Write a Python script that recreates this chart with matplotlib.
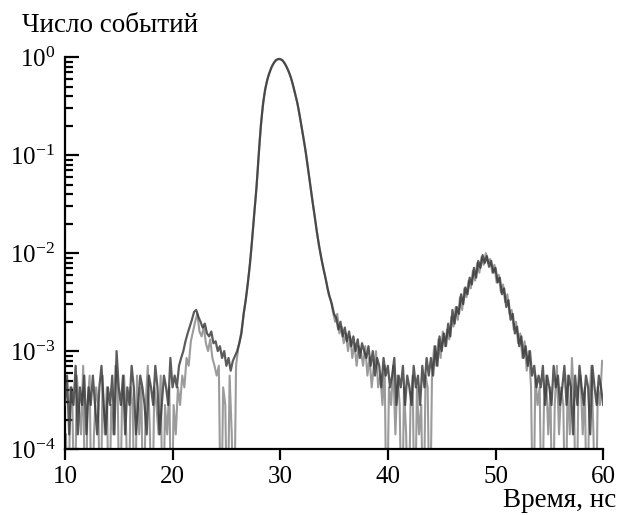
import numpy as np
import matplotlib
matplotlib.use("Agg")
import matplotlib.pyplot as plt
from matplotlib.ticker import LogLocator, NullFormatter

# bin centres, ns (two interleaved runs, 0.2 ns step each)
t_a = np.linspace(10.0, 60.0, 251)
t_b = np.linspace(10.1, 59.9, 250)

# log10 of normalised counts; -5 marks empty bins
log_a = [
    -3.55, -3.25, -3.85, -3.37, -3.55, -3.15, -3.85, -3.37, -3.55, -3.25,
    -3.85, -3.37, -3.55, -3.25, -3.55, -3.85, -3.37, -3.15, -3.55, -3.85,
    -3.37, -3.55, -3.25, -3.85, -3.00, -3.37, -3.55, -3.25, -3.85, -3.37,
    -3.55, -3.15, -3.37, -3.85, -3.55, -3.25, -3.37, -3.55, -3.85, -3.25,
    -3.37, -3.55, -3.15, -3.37, -3.85, -3.55, -3.25, -3.37, -3.55, -3.07,
    -3.37, -3.25, -3.37, -3.15, -3.07, -3.00, -2.90, -2.82, -2.75, -2.68,
    -2.60, -2.58, -2.65, -2.70, -2.76, -2.72, -2.82, -2.85, -2.80, -2.92,
    -2.90, -3.00, -2.95, -3.07, -3.00, -3.15, -3.07, -3.20, -3.10, -3.05,
    -3.00, -2.92, -2.82, -2.62, -2.48, -2.30, -2.10, -1.85, -1.58, -1.33,
    -1.00, -0.70, -0.48, -0.33, -0.23, -0.16, -0.10, -0.06, -0.03, -0.02,
    -0.02, -0.03, -0.06, -0.10, -0.15, -0.21, -0.29, -0.38, -0.47, -0.59,
    -0.72, -0.85, -0.99, -1.15, -1.31, -1.47, -1.62, -1.78, -1.92, -2.04,
    -2.15, -2.25, -2.36, -2.45, -2.52, -2.62, -2.66, -2.78, -2.70, -2.85,
    -2.76, -2.90, -2.80, -2.95, -2.85, -3.00, -2.88, -3.07, -2.92, -3.00,
    -3.07, -2.95, -3.15, -3.00, -3.25, -3.07, -3.15, -3.37, -3.07, -3.25,
    -3.15, -3.37, -3.25, -3.07, -3.55, -3.25, -3.37, -3.15, -3.55, -3.25,
    -3.37, -3.55, -3.15, -3.37, -3.25, -3.55, -3.15, -3.37, -3.07, -3.25,
    -3.07, -3.25, -2.95, -3.15, -2.85, -3.00, -2.82, -2.95, -2.72, -2.85,
    -2.58, -2.72, -2.55, -2.62, -2.42, -2.52, -2.35, -2.42, -2.25, -2.32,
    -2.15, -2.25, -2.08, -2.15, -2.02, -2.10, -2.03, -2.14, -2.08, -2.20,
    -2.15, -2.30, -2.25, -2.42, -2.36, -2.55, -2.48, -2.68, -2.62, -2.82,
    -2.75, -2.95, -2.85, -3.07, -2.95, -3.15, -3.00, -3.25, -3.15, -3.37,
    -3.25, -3.37, -3.15, -3.55, -3.25, -3.37, -3.55, -3.15, -3.37, -3.25,
    -3.55, -3.37, -3.15, -3.55, -3.25, -3.37, -3.85, -3.25, -3.55, -3.15,
    -3.37, -3.55, -3.25, -3.37, -3.85, -3.15, -3.37, -3.55, -3.25, -3.37,
    -3.55,
]

log_b = [
    -3.85, -5.00, -3.37, -3.55, -5.00, -3.25, -3.55, -3.85, -3.15, -5.00,
    -3.55, -3.25, -5.00, -3.85, -3.37, -3.55, -5.00, -3.25, -3.85, -3.37,
    -5.00, -3.55, -3.85, -3.15, -3.37, -5.00, -3.55, -3.25, -3.85, -5.00,
    -3.37, -3.55, -5.00, -3.25, -3.85, -3.37, -5.00, -3.55, -3.15, -3.85,
    -5.00, -3.37, -3.55, -3.85, -3.25, -5.00, -3.55, -3.85, -3.37, -5.00,
    -3.55, -3.85, -3.37, -3.55, -3.25, -3.37, -3.07, -3.15, -2.90, -2.80,
    -2.70, -2.62, -2.80, -2.85, -2.75, -2.92, -3.00, -2.88, -3.07, -3.15,
    -3.25, -3.15, -5.00, -3.37, -3.55, -5.00, -3.25, -3.85, -5.00, -3.15,
    -2.97, -2.86, -2.72, -2.55, -2.39, -2.20, -1.98, -1.72, -1.46, -1.17,
    -0.85, -0.59, -0.40, -0.28, -0.19, -0.13, -0.08, -0.045, -0.025, -0.015,
    -0.025, -0.045, -0.08, -0.125, -0.18, -0.25, -0.335, -0.425, -0.53, -0.655,
    -0.79, -0.92, -1.07, -1.23, -1.39, -1.55, -1.70, -1.85, -1.98, -2.10,
    -2.20, -2.30, -2.42, -2.48, -2.60, -2.70, -2.62, -2.82, -2.75, -2.92,
    -2.82, -3.00, -2.85, -3.07, -2.92, -3.15, -2.95, -3.00, -3.15, -2.95,
    -3.25, -3.07, -3.37, -3.15, -3.00, -3.37, -3.25, -3.55, -3.15, -5.00,
    -3.37, -3.55, -3.15, -3.85, -3.25, -3.55, -5.00, -3.37, -3.85, -5.00,
    -3.55, -3.25, -5.00, -3.37, -3.85, -3.55, -5.00, -3.25, -3.37, -5.00,
    -3.25, -2.95, -3.15, -2.88, -3.07, -2.80, -2.95, -2.78, -2.88, -2.65,
    -2.75, -2.55, -2.68, -2.45, -2.58, -2.36, -2.45, -2.28, -2.36, -2.18,
    -2.28, -2.10, -2.20, -2.04, -2.12, -2.00, -2.10, -2.06, -2.20, -2.12,
    -2.30, -2.22, -2.40, -2.32, -2.50, -2.42, -2.62, -2.58, -2.78, -2.70,
    -2.92, -2.82, -3.07, -2.90, -3.20, -3.00, -3.37, -5.00, -3.25, -3.55,
    -3.37, -5.00, -3.55, -3.25, -3.85, -3.37, -5.00, -3.55, -3.15, -3.85,
    -3.37, -3.55, -5.00, -3.25, -3.85, -3.07, -3.55, -5.00, -3.37, -3.25,
    -3.85, -3.37, -5.00, -3.55, -3.15, -3.85, -5.00, -3.37, -3.55, -3.10,
]

y_a = 10.0 ** np.array(log_a)
y_b = 10.0 ** np.array(log_b)

plt.rcParams.update({
    "font.family": ["Liberation Serif", "DejaVu Serif"],
    "mathtext.fontset": "stix",
    "font.size": 18,
    "axes.linewidth": 1.6,
})

fig = plt.figure(figsize=(6.18, 5.15), dpi=100)
ax = fig.add_axes([0.105, 0.128, 0.871, 0.761])

ax.plot(t_b, y_b, color="#8a8a8a", lw=1.5, alpha=0.85, zorder=2)
ax.plot(t_a, y_a, color="#333333", lw=1.6, alpha=0.8, zorder=3)

ax.set_yscale("log")
ax.set_xlim(10, 60)
ax.set_ylim(1e-4, 1e0)
ax.set_xticks([10, 20, 30, 40, 50, 60])

ax.yaxis.set_major_locator(LogLocator(base=10, numticks=10))
ax.yaxis.set_minor_locator(LogLocator(base=10, subs=np.arange(2, 10), numticks=10))
ax.yaxis.set_minor_formatter(NullFormatter())

ax.tick_params(axis="x", direction="out", length=8, width=1.6, labelsize=18, pad=4)
ax.tick_params(axis="y", which="major", direction="in", length=10, width=1.6, labelsize=18, pad=7)
ax.tick_params(axis="y", which="minor", direction="in", length=6, width=1.6)

ax.spines["top"].set_visible(False)
ax.spines["right"].set_visible(False)

fig.text(0.036, 0.951, "Число событий", ha="left", va="center", fontsize=19.5)
fig.text(0.997, 0.016, "Время, нс", ha="right", va="baseline", fontsize=19.5)

fig.savefig("out.png", dpi=100)
